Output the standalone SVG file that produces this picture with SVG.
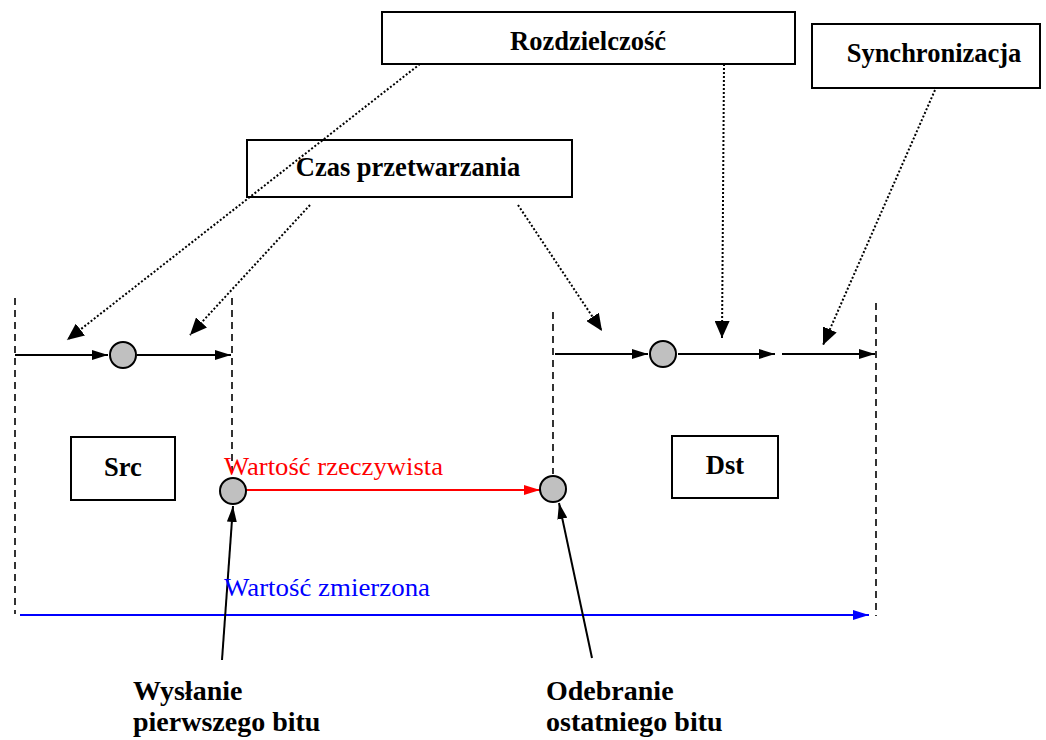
<svg xmlns="http://www.w3.org/2000/svg" width="1046" height="740" viewBox="0 0 1046 740">
  <defs>
    <style>
      .box { fill: #ffffff; stroke: #000000; stroke-width: 2; }
      .lbl { font-family: "Liberation Serif", "Times New Roman", serif; font-weight: bold; font-size: 26.5px; fill: #000000; text-anchor: middle; }
      .cap { font-family: "Liberation Serif", "Times New Roman", serif; font-weight: bold; font-size: 28px; fill: #000000; }
      .val { font-family: "Liberation Serif", "Times New Roman", serif; font-size: 26px; }
      .dash { stroke: #000000; stroke-width: 1.6; stroke-dasharray: 7 5; fill: none; }
      .dot { stroke: #000000; stroke-width: 2; stroke-dasharray: 2 2; fill: none; }
      .solid { stroke: #000000; stroke-width: 2; fill: none; }
      .pt { fill: #c0c0c0; stroke: #000000; stroke-width: 2; }
    </style>
    <marker id="ah" viewBox="0 0 16 10" refX="16" refY="5" markerWidth="16" markerHeight="10" markerUnits="userSpaceOnUse" orient="auto">
      <path d="M0,0 L16,5 L0,10 Z" fill="#000000"/>
    </marker>
    <marker id="ahBig" viewBox="0 0 17 15" refX="17" refY="7.5" markerWidth="17" markerHeight="15" markerUnits="userSpaceOnUse" orient="auto">
      <path d="M0,0 L17,7.5 L0,15 Z" fill="#000000"/>
    </marker>
    <marker id="ahRed" viewBox="0 0 16 10" refX="16" refY="5" markerWidth="16" markerHeight="10" markerUnits="userSpaceOnUse" orient="auto">
      <path d="M0,0 L16,5 L0,10 Z" fill="#ff0000"/>
    </marker>
    <marker id="ahBlue" viewBox="0 0 16 10" refX="16" refY="5" markerWidth="16" markerHeight="10" markerUnits="userSpaceOnUse" orient="auto">
      <path d="M0,0 L16,5 L0,10 Z" fill="#0000ff"/>
    </marker>
  </defs>

  <rect width="1046" height="740" fill="#ffffff"/>

  <!-- Labelled boxes -->
  <g id="rozdzielczosc">
    <rect class="box" x="382" y="12" width="413" height="52"/>
    <text class="lbl" x="588" y="50">Rozdzielczość</text>
  </g>
  <g id="synchronizacja">
    <rect class="box" x="812" y="24" width="228" height="64"/>
    <text class="lbl" x="934" y="62">Synchronizacja</text>
  </g>
  <g id="czas-przetwarzania">
    <rect class="box" x="247" y="140" width="325" height="57"/>
    <text class="lbl" x="408" y="176">Czas przetwarzania</text>
  </g>
  <g id="src">
    <rect class="box" x="71" y="437" width="104" height="63"/>
    <text class="lbl" x="123" y="476">Src</text>
  </g>
  <g id="dst">
    <rect class="box" x="672" y="436" width="106" height="62"/>
    <text class="lbl" x="725" y="474">Dst</text>
  </g>

  <!-- Time boundaries -->
  <g id="boundaries">
    <line class="dash" x1="15" y1="298" x2="15" y2="614"/>
    <line class="dash" x1="232" y1="298" x2="232" y2="474"/>
    <line class="dash" x1="553" y1="312" x2="553" y2="474"/>
    <line class="dash" x1="876" y1="303" x2="876" y2="616"/>
  </g>

  <!-- Connectors -->
  <g id="connectors">
    <!-- source timeline -->
    <line class="solid" x1="15" y1="355" x2="108" y2="355" marker-end="url(#ah)"/>
    <line class="solid" x1="137" y1="355" x2="231" y2="355" marker-end="url(#ah)"/>
    <!-- destination timeline -->
    <line class="solid" x1="555" y1="354" x2="648" y2="354" marker-end="url(#ah)"/>
    <line class="solid" x1="678" y1="354" x2="775" y2="354" marker-end="url(#ah)"/>
    <line class="solid" x1="782" y1="354" x2="875" y2="354" marker-end="url(#ah)"/>

    <!-- dotted pointers from the labelled boxes -->
    <line class="dot" x1="420" y1="64" x2="67" y2="340" marker-end="url(#ahBig)"/>
    <line class="dot" x1="310" y1="205" x2="190" y2="335" marker-end="url(#ahBig)"/>
    <line class="dot" x1="518" y1="205" x2="602" y2="331" marker-end="url(#ahBig)"/>
    <line class="dot" x1="724" y1="64" x2="722" y2="338" marker-end="url(#ahBig)"/>
    <line class="dot" x1="935" y1="90" x2="823" y2="345" marker-end="url(#ahBig)"/>

    <!-- real value -->
    <line x1="246" y1="490" x2="540" y2="490" stroke="#ff0000" stroke-width="2" marker-end="url(#ahRed)"/>
    <!-- measured value -->
    <line x1="20" y1="615" x2="869" y2="615" stroke="#0000ff" stroke-width="2" marker-end="url(#ahBlue)"/>

    <!-- event pointers -->
    <line class="solid" x1="222" y1="660" x2="233" y2="506" marker-end="url(#ah)"/>
    <line class="solid" x1="592" y1="658" x2="559" y2="503" marker-end="url(#ah)"/>
  </g>

  <!-- Event points -->
  <g id="points">
    <circle class="pt" cx="123" cy="355" r="13"/>
    <circle class="pt" cx="663" cy="354" r="13"/>
    <circle class="pt" cx="233" cy="491" r="13"/>
    <circle class="pt" cx="553" cy="489" r="13"/>
  </g>

  <!-- Value labels -->
  <text class="val" x="224" y="475" fill="#ff0000" textLength="219" lengthAdjust="spacingAndGlyphs">Wartość rzeczywista</text>
  <text class="val" x="224" y="596" fill="#0000ff" textLength="206" lengthAdjust="spacingAndGlyphs">Wartość zmierzona</text>

  <!-- Event captions -->
  <g id="wyslanie">
    <text class="cap" x="133" y="700">Wysłanie</text>
    <text class="cap" x="133" y="731">pierwszego bitu</text>
  </g>
  <g id="odebranie">
    <text class="cap" x="546" y="700">Odebranie</text>
    <text class="cap" x="546" y="731">ostatniego bitu</text>
  </g>
</svg>
